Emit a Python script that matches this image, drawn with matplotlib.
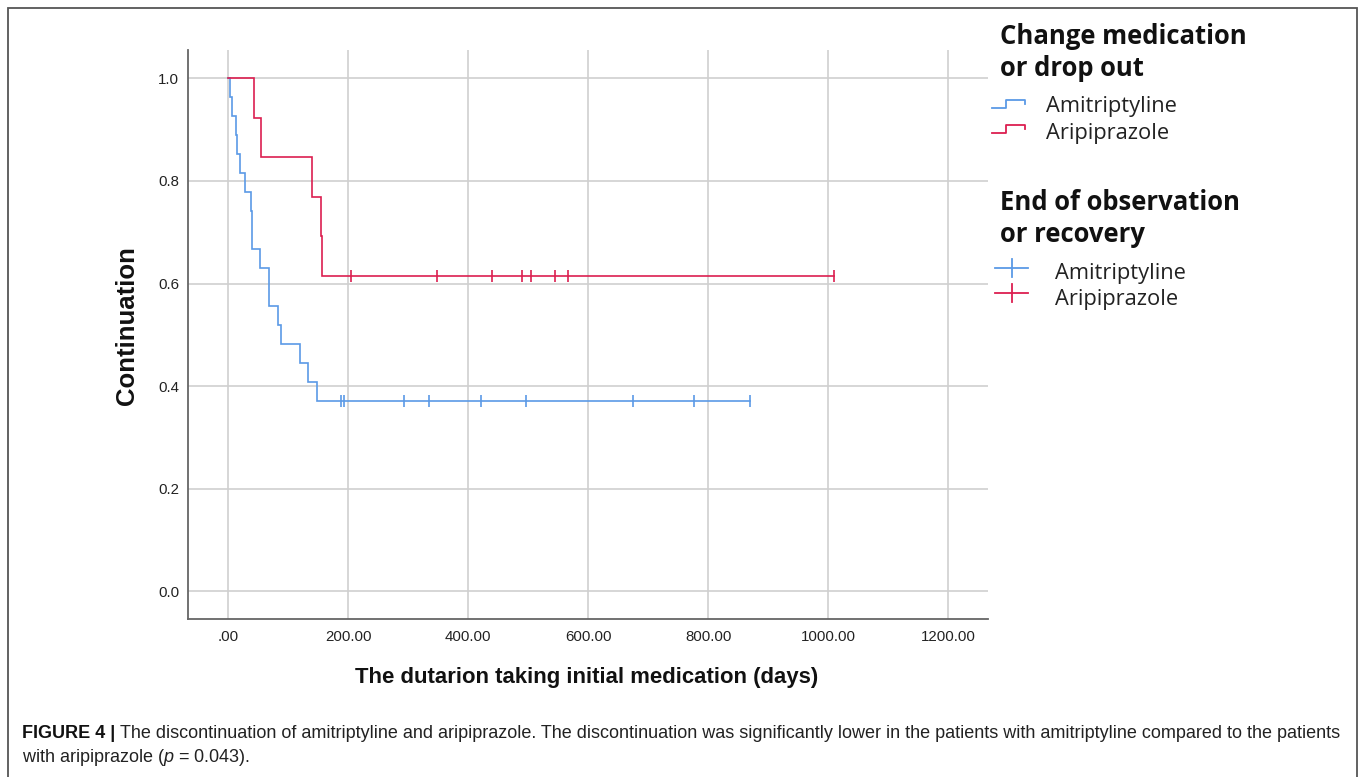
import numpy as np
import matplotlib
matplotlib.use("Agg")
import matplotlib.pyplot as plt
from matplotlib.lines import Line2D
from matplotlib.patches import Rectangle

# ---------------- data (days) ----------------
ami_events = [2, 6, 13, 15, 20, 28, 37, 40, 40, 53, 67, 68, 82, 88, 119, 133, 147]
ami_censored = [188, 193, 193, 292, 335, 421, 496, 674, 777, 870]
ari_events = [42, 55, 140, 155, 156]
ari_censored = [204, 347, 440, 490, 505, 545, 566, 1009]

x_ticks = [0, 200, 400, 600, 800, 1000, 1200]
x_ticklabels = [".00", "200.00", "400.00", "600.00", "800.00", "1000.00", "1200.00"]
y_ticks = [0.0, 0.2, 0.4, 0.6, 0.8, 1.0]
y_ticklabels = ["0.0", "0.2", "0.4", "0.6", "0.8", "1.0"]

BLUE = "#5b9ae6"
RED = "#dc1f50"

W, H = 1360, 777

plt.rcParams["mathtext.fontset"] = "custom"
plt.rcParams["mathtext.it"] = "Liberation Sans:italic"
plt.rcParams["mathtext.rm"] = "Liberation Sans"


def km(events, censored):
    times = sorted(set(events) | set(censored))
    n = len(events) + len(censored)
    s = 1.0
    xs, ys = [0.0], [1.0]
    cens_x, cens_y = [], []
    at_risk = n
    for t in times:
        d = events.count(t)
        c = censored.count(t)
        if d:
            xs.append(t); ys.append(s)
            s = s * (1 - d / at_risk)
            xs.append(t); ys.append(s)
        if c:
            cens_x.append(t); cens_y.append(s)
        at_risk -= d + c
    xs.append(max(times)); ys.append(s)
    return xs, ys, cens_x, cens_y


def fx(px):
    return px / W


def fy(py):
    return 1 - py / H


fig = plt.figure(figsize=(W / 100, H / 100), dpi=100)
fig.patch.set_facecolor("white")


def fit_text(x, y, s, width_px, size0=12, **kw):
    t = fig.text(fx(x), fy(y), s, fontsize=size0, **kw)
    fig.canvas.draw()
    w = t.get_window_extent().width
    t.set_fontsize(size0 * width_px / w)
    return t


ax = fig.add_axes([fx(187.7), fy(619.3), fx(987.7) - fx(187.7), fy(50) - fy(619.3)])
ax.set_xlim(-67.7, 1265.7)
ax.set_ylim(-0.0552, 1.0556)

for ev, ce, col in [(ami_events, ami_censored, BLUE), (ari_events, ari_censored, RED)]:
    xs, ys, cx, cy = km(ev, ce)
    ax.plot(xs, ys, color=col, lw=1.2, zorder=3, solid_joinstyle="miter")
    ax.plot(cx, cy, ls="none", marker="|", ms=8, mew=1.2, color=col, zorder=3)

ax.set_xticks(x_ticks)
ax.set_xticklabels(x_ticklabels)
ax.set_yticks(y_ticks)
ax.set_yticklabels(y_ticklabels)
ax.tick_params(length=0, labelsize=10.8, labelcolor="#222222")
ax.tick_params(axis="y", pad=6)
ax.tick_params(axis="x", pad=8)
for lab in ax.get_xticklabels() + ax.get_yticklabels():
    lab.set_fontfamily("Liberation Sans")
ax.grid(True, color="#cfcfcf", lw=1.2)
ax.set_axisbelow(True)
for sp in ["top", "right"]:
    ax.spines[sp].set_visible(False)
for sp in ["left", "bottom"]:
    ax.spines[sp].set_color("#666666")
    ax.spines[sp].set_linewidth(1.3)

fig.text(fx(127), fy(326), "Continuation", rotation=90, ha="center", va="center",
         fontsize=18.5, fontweight="bold", family="Liberation Sans", color="#111111")
fit_text(355, 678, "The dutarion taking initial medication (days)", 465, size0=14,
         ha="left", va="center", fontweight="bold", family="Liberation Sans", color="#111111")

# ---------------- legend ----------------
LEG_FONT = ["Open Sans", "DejaVu Sans"]
tsz = fit_text(1000, 37, "Change medication", 247, size0=16, ha="left", va="center",
               fontweight="bold", family=LEG_FONT, color="#111111").get_fontsize()
for s, y in [("or drop out", 69), ("End of observation", 202), ("or recovery", 235)]:
    fig.text(fx(1000), fy(y), s, ha="left", va="center", fontsize=tsz,
             fontweight="bold", family=LEG_FONT, color="#111111")

esz = None
for col, name, dy in [(BLUE, "Amitriptyline", 0), (RED, "Aripiprazole", 25)]:
    pxs = [992, 1006, 1006, 1025, 1025]
    pys = [108.3 + dy, 108.3 + dy, 99.5 + dy, 99.5 + dy, 104 + dy]
    fig.add_artist(Line2D([fx(p) for p in pxs], [fy(p) for p in pys], color=col, lw=1.3,
                          transform=fig.transFigure))
    if esz is None:
        esz = fit_text(1046, 106.5, name, 130, size0=13, ha="left", va="center",
                       family=LEG_FONT, color="#222222").get_fontsize()
    else:
        fig.text(fx(1046), fy(106.5 + dy * 1.1), name, ha="left", va="center", fontsize=esz,
                 family=LEG_FONT, color="#222222")

for col, name, yc, ty in [(BLUE, "Amitriptyline", 268, 273.5), (RED, "Aripiprazole", 293, 299.5)]:
    fig.add_artist(Line2D([fx(995), fx(1028)], [fy(yc), fy(yc)], color=col, lw=1.3,
                          transform=fig.transFigure))
    fig.add_artist(Line2D([fx(1012), fx(1012)], [fy(yc - 9), fy(yc + 9)], color=col, lw=1.3,
                          transform=fig.transFigure))
    fig.text(fx(1055), fy(ty), name, ha="left", va="center", fontsize=esz,
             family=LEG_FONT, color="#222222")

# ---------------- frame & caption ----------------
fig.add_artist(Rectangle((fx(7.5), fy(800)), fx(1356.5) - fx(7.5), fy(8) - fy(800),
                         fill=False, ec="#555555", lw=1.3, transform=fig.transFigure))

line1 = ("The discontinuation of amitriptyline and aripiprazole. The discontinuation was significantly "
         "lower in the patients with amitriptyline compared to the patients")
cs = 12.0
t1 = fig.text(fx(22), fy(733), "FIGURE 4 | ", ha="left", va="center", fontsize=cs,
              fontweight="bold", family="Liberation Sans", color="#111111")
t2 = fig.text(fx(100), fy(733), line1, ha="left", va="center", fontsize=cs,
              family="Liberation Sans", color="#222222")
fig.canvas.draw()
total = t1.get_window_extent().width + t2.get_window_extent().width
cs = cs * (1343 - 22) / total
t1.set_fontsize(cs)
t2.set_fontsize(cs)
fig.canvas.draw()
t2.set_x(t1.get_window_extent().x1 / W)
fig.text(fx(22), fy(758), r"with aripiprazole ($p$ = 0.043).", ha="left", va="center",
         fontsize=cs, family="Liberation Sans", color="#222222")

fig.savefig("out.png", dpi=100)
